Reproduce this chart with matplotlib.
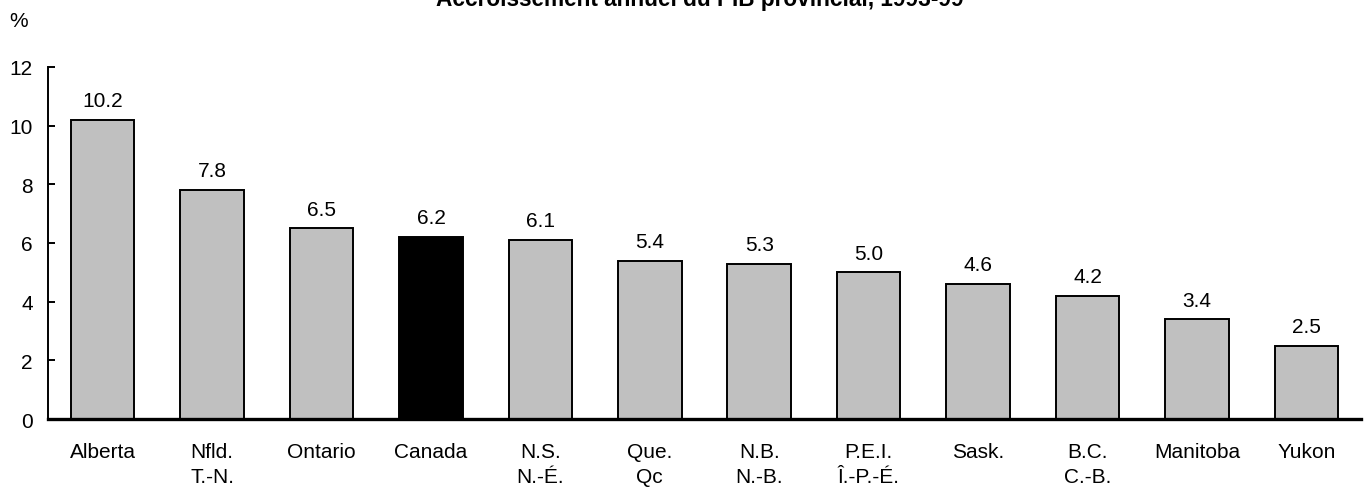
import matplotlib
matplotlib.use("Agg")
import matplotlib.pyplot as plt

categories = ["Alberta", "Nfld.\nT.-N.", "Ontario", "Canada", "N.S.\nN.-É.", "Que.\nQc",
              "N.B.\nN.-B.", "P.E.I.\nÎ.-P.-É.", "Sask.", "B.C.\nC.-B.", "Manitoba", "Yukon"]
values = [10.2, 7.8, 6.5, 6.2, 6.1, 5.4, 5.3, 5.0, 4.6, 4.2, 3.4, 2.5]
highlight = "Canada"
yticks = [0, 2, 4, 6, 8, 10, 12]
title = "Accroissement annuel du PIB provincial, 1993-99"

plt.rcParams['font.family'] = ['Liberation Sans', 'DejaVu Sans']
FS = 15

fig = plt.figure(figsize=(13.64, 4.89), dpi=100)
ax = fig.add_axes([48/1364, 1-420/489, (1361-48)/1364, (420-68)/489])

colors = ["black" if c.startswith(highlight) else "#c0c0c0" for c in categories]
x = range(len(categories))
ax.bar(x, values, width=0.58, color=colors, edgecolor="black", linewidth=1.4, zorder=2)
for xi, v in zip(x, values):
    ax.annotate(f"{v:.1f}", (xi, v), xytext=(0, 7), textcoords="offset points",
                ha="center", va="bottom", fontsize=FS)

ax.set_xlim(-0.5, len(categories) - 0.5)
ax.set_ylim(0, 12)
ax.set_yticks(yticks)
ax.set_xticks(list(x))
ax.set_xticklabels(categories, fontsize=FS, linespacing=1.42, va="top")
ax.tick_params(axis="x", length=0, pad=16.5)
ax.tick_params(axis="y", length=5, width=1.4, direction="in", labelsize=FS, pad=11)
for s in ["top", "right"]:
    ax.spines[s].set_visible(False)
ax.spines["left"].set_linewidth(1.4)
ax.spines["bottom"].set_linewidth(2.4)
ax.spines["bottom"].set_zorder(3)

fig.text(9/1364, 1-27/489, "%", fontsize=FS, ha="left", va="baseline")
fig.text(700/1364, 1-6/489, title, fontsize=16.3, fontweight="bold", ha="center", va="baseline")

fig.savefig("out.png", dpi=100)
